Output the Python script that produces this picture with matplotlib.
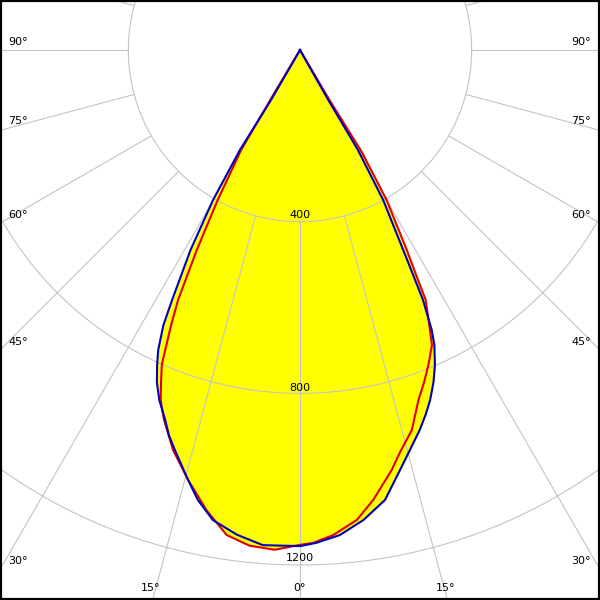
import numpy as np
import matplotlib
matplotlib.use('Agg')
import matplotlib.pyplot as plt

# luminous intensity (cd), gamma in degrees from nadir
blue_left_ang = [0, 4.3, 7.4, 10.5, 12.8, 14.6, 17.4, 18.8, 20.0, 21.9, 23.3, 24.4, 25.3, 26.4, 27.1, 28.7, 30.1, 31.0, 30.1, 31.0]
blue_left_cd = [1156, 1157, 1139, 1114, 1075, 1035, 976, 948, 918, 879, 843, 806, 773, 716, 654, 531, 404, 272, 135, 0]
blue_right_ang = [0, 1.9, 4.7, 7.7, 10.7, 13.4, 15.4, 17.5, 19.0, 20.4, 21.9, 23.2, 24.5, 25.2, 26.2, 26.7, 27.3, 29.0, 30.1, 29.5, 31.0]
blue_right_cd = [1156, 1149, 1134, 1105, 1067, 1006, 966, 928, 899, 870, 834, 798, 755, 721, 649, 587, 524, 400, 269, 134, 0]

red_left_ang = [0, 2.9, 5.8, 8.6, 11.5, 14.6, 17.6, 20.2, 21.7, 22.7, 23.7, 24.2, 25.1, 26.0, 27.3, 28.75, 30.5, 30.8, 31.0]
red_left_cd = [1153, 1166, 1161, 1143, 1094, 1035, 978, 918, 878, 839, 801, 766, 708, 648, 524, 399, 270, 130, 0]
red_right_ang = [0, 1.5, 3.9, 6.9, 9.25, 12.3, 14.0, 16.4, 18.7, 20.5, 22.2, 24.1, 24.9, 26.7, 27.3, 28.1, 30.0, 31.2, 30.5, 31.0]
red_right_cd = [1153, 1149, 1133, 1103, 1062, 1002, 965, 923, 861, 826, 792, 753, 719, 652, 590, 528, 404, 277, 135, 0]

rings = [400, 800, 1200]
ring_labels = ['400', '800', '1200']
side_labels = ['90°', '75°', '60°', '45°', '30°']
bottom_labels = ['15°', '0°', '15°']

k = 515 / 1200.0  # pixels per cd
cx, cy = 300, 50  # centre of the diagram in pixels


def px(x, y):
    # pixel position -> data coords
    return (x - cx) / k, (cy - y) / k


def curve(l_ang, l_cd, r_ang, r_cd):
    la = np.radians(l_ang)[::-1]
    lc = np.array(l_cd, float)[::-1]
    ra = np.radians(r_ang)
    rc = np.array(r_cd, float)
    x = np.concatenate([-lc * np.sin(la), rc * np.sin(ra)])
    y = np.concatenate([-lc * np.cos(la), -rc * np.cos(ra)])
    return x, y


fig = plt.figure(figsize=(6, 6), dpi=100)
ax = fig.add_axes([0, 0, 1, 1])
x0, y0 = px(0, 600)
x1, y1 = px(600, 0)
ax.set_xlim(x0, x1)
ax.set_ylim(y0, y1)
ax.set_xticks([])
ax.set_yticks([])
for s in ax.spines.values():
    s.set_linewidth(3)
    s.set_color('black')

grid_c = '#c4c4c4'
t = np.linspace(0, 2 * np.pi, 500)
for r in rings:
    ax.plot(r * np.cos(t), r * np.sin(t), color=grid_c, lw=0.8, zorder=2)
for a in range(-180, 180, 15):
    ar = np.radians(a)
    rr = np.array([rings[0], 3000])
    ax.plot(rr * np.sin(ar), -rr * np.cos(ar), color=grid_c, lw=0.8, zorder=2)

bx, by = curve(blue_left_ang, blue_left_cd, blue_right_ang, blue_right_cd)
rx, ry = curve(red_left_ang, red_left_cd, red_right_ang, red_right_cd)
ax.fill(bx, by, color='#ffff00', lw=0, zorder=1)
ax.fill(rx, ry, color='#ffff00', lw=0, zorder=1)
ax.plot(rx, ry, color='#e00000', lw=1.5, zorder=3, solid_joinstyle='round')
ax.plot(bx, by, color='#0000c0', lw=1.5, zorder=4, solid_joinstyle='round')

fs = 8
side_y = [42, 121, 215, 342, 561]
for lab, yy in zip(side_labels, side_y):
    ax.text(*px(8, yy), lab, ha='left', va='center', fontsize=fs, zorder=5)
    ax.text(*px(591, yy), lab, ha='right', va='center', fontsize=fs, zorder=5)
for lab, xx in zip(bottom_labels, [151, 299, 446]):
    ax.text(*px(xx, 588), lab, ha='center', va='center', fontsize=fs, zorder=5)
for lab, yy in zip(ring_labels, [215, 388, 558]):
    ax.text(*px(300, yy), lab, ha='center', va='center', fontsize=fs, zorder=5)

fig.savefig('out.png', dpi=100)
